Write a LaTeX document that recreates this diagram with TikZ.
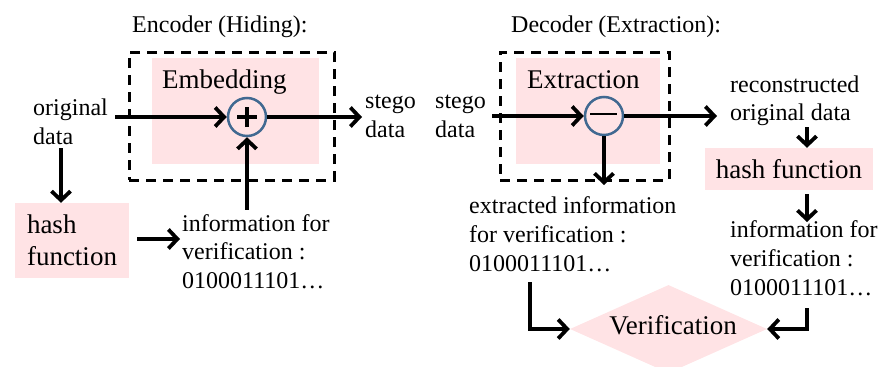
\documentclass[tikz,border=0pt]{standalone}
\usepackage{fontspec}
\setmainfont{Liberation Serif}
\usetikzlibrary{arrows.meta,shapes.geometric}
\definecolor{blockpink}{RGB}{255,227,229}
\definecolor{ringblue}{RGB}{65,105,145}
\begin{document}
\begin{tikzpicture}[x=1pt,y=-1pt,
  txt/.style={inner sep=0pt, anchor=base west, align=left, font=\fontsize{24}{28.5}\selectfont},
  bigtxt/.style={inner sep=0pt, anchor=base west, font=\fontsize{27}{32}\selectfont},
  pinkbox/.style={fill=blockpink, inner sep=0pt},
  dashbox/.style={draw, line width=3pt, dash pattern=on 10pt off 7pt, inner sep=0pt},
  ring/.style={circle, draw=ringblue, line width=2.5pt, fill=blockpink, minimum size=38pt, inner sep=0pt},
  arr/.style={line width=3.8pt, -{Straight Barb[length=9pt,width=19pt]}},
  bar/.style={line width=3.8pt},
]
\clip (0,0) rectangle (879,367);
\useasboundingbox (0,0) rectangle (879,367);

% ---------------- Encoder ----------------
% (multi-line labels are anchored at the baseline of their last line)
\node[txt] (enctitle) at (132,32) {Encoder (Hiding):};
\node[dashbox, minimum width=205pt, minimum height=128pt] (encframe) at (231.5,116) {};
\node[pinkbox, minimum width=167pt, minimum height=106pt] (embbox) at (235.5,111) {};
\node[bigtxt] (emblabel) at (162,88) {Embedding};
\node[ring] (plus) at (247,117) {};
\draw[bar] ([xshift=-10pt]plus.center) -- ([xshift=10pt]plus.center);
\draw[bar] ([yshift=-10pt]plus.center) -- ([yshift=10pt]plus.center);

\node[txt] (orig) at (33,144) {original\\data};
\node[txt] (stegoout) at (365,137) {stego\\data};
\node[pinkbox, align=left, font=\fontsize{27}{32}\selectfont,
      minimum width=114pt, minimum height=75pt] (hashL) at (72,240.5) {hash\\function};
\node[txt] (infoL) at (182,288) {information for\\verification :\\0100011101\ldots};

\draw[arr] ([xshift=7pt]orig.east |- plus.west) -- (plus.west);
\draw[arr] (plus.east) -- ([xshift=-3pt]stegoout.west |- plus.east);
\draw[arr] (61,148) -- (hashL.north -| 61,0);
\draw[arr] ([xshift=8pt]hashL.east |- 0,239) -- ([xshift=-2pt]infoL.west |- 0,239);
\draw[arr] (plus.south |- infoL.north) ++(0,-4) -- (plus.south);

% ---------------- Decoder ----------------
\node[txt] (dectitle) at (511,32) {Decoder (Extraction):};
\node[dashbox, minimum width=169pt, minimum height=128pt] (decframe) at (584.5,116) {};
\node[pinkbox, minimum width=144pt, minimum height=106pt] (extbox) at (588,111) {};
\node[bigtxt] (extlabel) at (527,88) {Extraction};
\node[ring] (minus) at (604,116) {};
\draw[line width=2.2pt] ([xshift=-14pt,yshift=2pt]minus.center) -- ([xshift=13pt,yshift=2pt]minus.center);

\node[txt] (stegoin) at (435,137) {stego\\data};
\node[txt, font=\fontsize{24}{28}\selectfont] (recon) at (730,120) {reconstructed\\original data};
\node[pinkbox, font=\fontsize{27}{32}\selectfont,
      minimum width=168pt, minimum height=42pt] (hashR) at (789,169) {hash function};
\node[txt, font=\fontsize{24}{29}\selectfont] (infoR) at (730,295) {information for\\verification :\\0100011101\ldots};
\node[txt, font=\fontsize{24}{29}\selectfont] (extinfo) at (469,271) {extracted information\\for verification :\\0100011101\ldots};
\node[diamond, fill=blockpink, inner sep=0pt, minimum width=197pt, minimum height=88pt] (verif) at (668.5,329) {};
\node[bigtxt, anchor=base] (veriflabel) at (673,334) {Verification};

\draw[arr] ([xshift=6pt]stegoin.east |- minus.west) -- (minus.west);
\draw[arr] (minus.east) -- ([xshift=-13pt]recon.west |- minus.east);
\draw[arr] (807,127) -- (hashR.north -| 807,0);
\draw[arr] ([yshift=-4pt]hashR.south -| 807,0) -- (807,222);
\draw[arr] (minus.south) -- (604,185);
\draw[arr] (530,282) |- (verif.west);
\draw[arr] (807,308) |- (verif.east);
\end{tikzpicture}
\end{document}
